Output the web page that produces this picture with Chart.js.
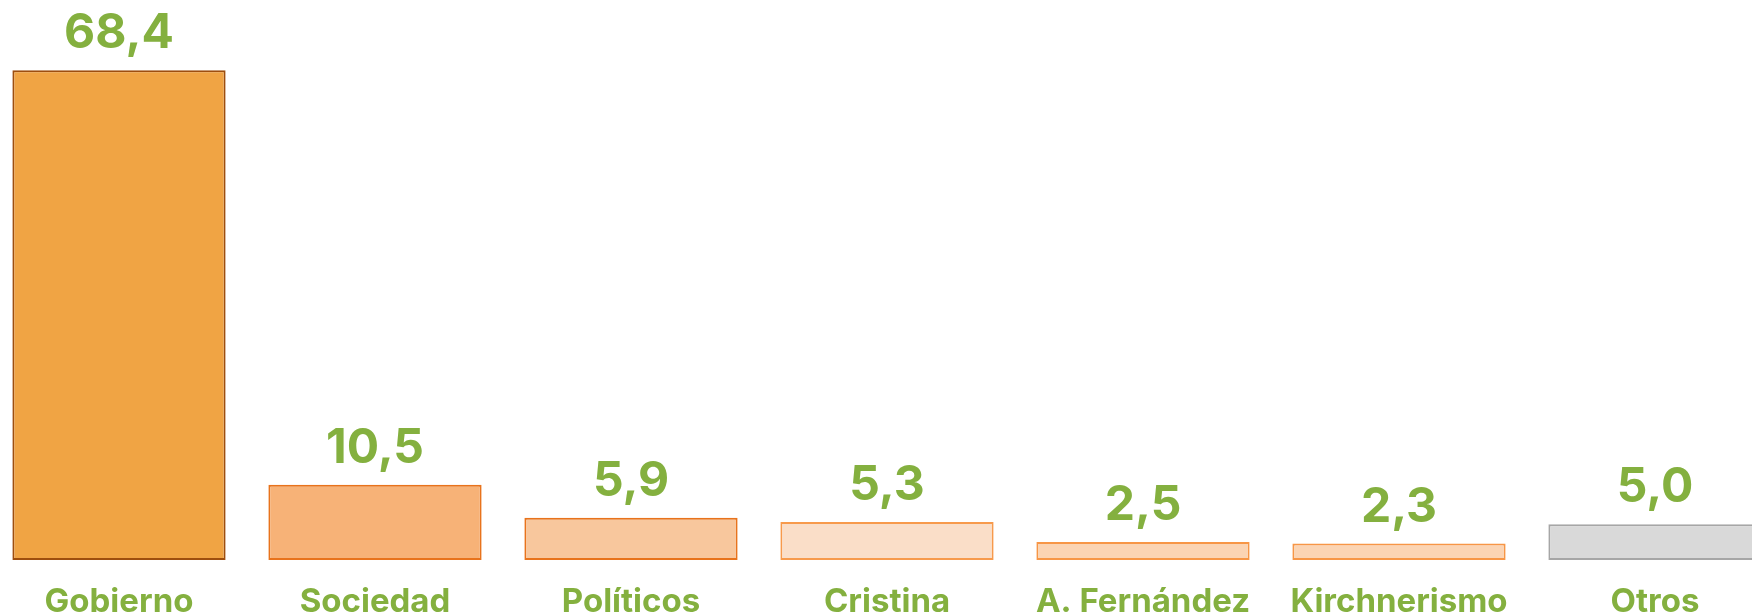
<!DOCTYPE html>
<html lang="es">
<head>
    <meta charset="UTF-8" />
    <title>Responsables</title>
    <script src="https://cdn.jsdelivr.net/npm/chart.js"></script>
    <style>
        html, body { margin: 0; padding: 0; background: #fff; overflow: hidden; }
        .wrap { position: relative; width: 1792px; height: 616px; margin-left: -9px; }
    </style>
</head>
<body>
    <div class="wrap"><canvas id="barChart"></canvas></div>

    <script>
        const categories = ['Gobierno', 'Sociedad', 'Políticos', 'Cristina', 'A. Fernández', 'Kirchnerismo', 'Otros'];
        const values = [68.4, 10.5, 5.9, 5.3, 2.5, 2.3, 5.0];
        const fillColors = ['#F0A444', '#F7B277', '#F8C79D', '#FADEC8', '#FBD4B3', '#FBD4B3', '#D9D9D9'];
        const borderColors = ['#9E4E0E', '#E8731C', '#E8731C', '#F79A4C', '#F79646', '#F79646', '#A6A6A6'];

        const green = '#84B03F';
        const fontFamily = 'Inter, "Open Sans", sans-serif';

        // draws the number above each bar, using comma decimals
        const valueLabels = {
            id: 'valueLabels',
            afterDatasetsDraw(chart) {
                const ctx = chart.ctx;
                const meta = chart.getDatasetMeta(0);
                ctx.save();
                ctx.fillStyle = green;
                ctx.font = '700 48px ' + fontFamily;
                ctx.textAlign = 'center';
                ctx.textBaseline = 'alphabetic';
                meta.data.forEach((bar, i) => {
                    const txt = values[i].toFixed(1).replace('.', ',');
                    ctx.fillText(txt, bar.x, bar.y - 22);
                });
                ctx.restore();
            }
        };

        new Chart(document.getElementById('barChart'), {
            type: 'bar',
            data: {
                labels: categories,
                datasets: [{
                    data: values,
                    backgroundColor: fillColors,
                    borderColor: borderColors,
                    borderWidth: 2,
                    borderSkipped: false,
                    barPercentage: 0.833,
                    categoryPercentage: 1
                }]
            },
            options: {
                responsive: true,
                maintainAspectRatio: false,
                animation: false,
                layout: { padding: 0 },
                plugins: {
                    legend: { display: false },
                    tooltip: { enabled: false }
                },
                scales: {
                    x: {
                        grid: { display: false, drawTicks: false },
                        border: { display: false },
                        ticks: {
                            color: green,
                            font: { family: fontFamily, size: 33, weight: '700' },
                            padding: 22,
                            maxRotation: 0,
                            autoSkip: false
                        },
                        afterFit(scale) { scale.height = 56; }
                    },
                    y: {
                        display: false,
                        min: 0,
                        max: 78.2
                    }
                }
            },
            plugins: [valueLabels]
        });
    </script>
</body>
</html>
